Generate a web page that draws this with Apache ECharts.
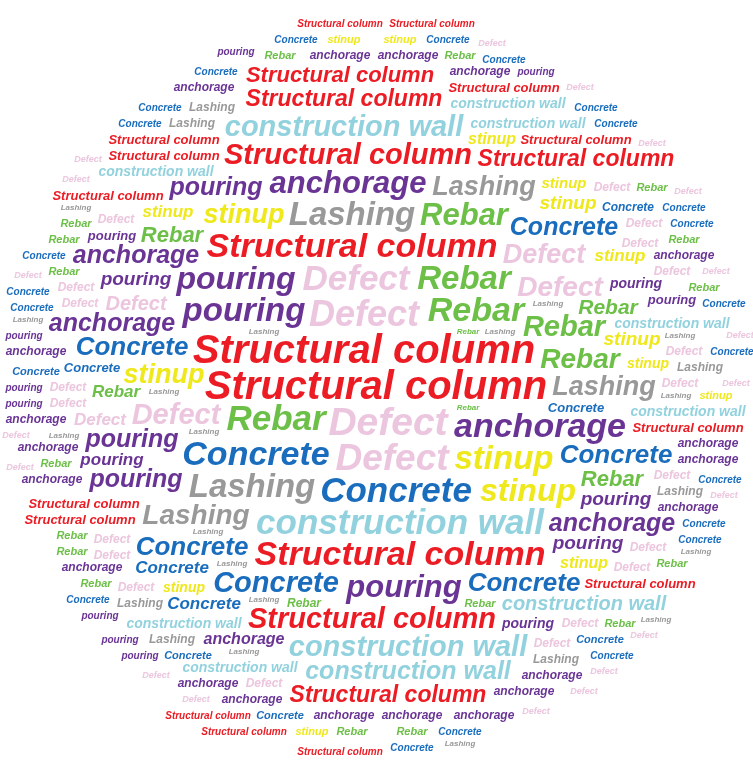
<!DOCTYPE html>
<html>
<head>
<meta charset="utf-8">
<title>Word cloud</title>
<script src="https://cdn.jsdelivr.net/npm/echarts@6/dist/echarts.min.js"></script>
<style>
  html, body { margin: 0; padding: 0; background: #fff; }
  #chart { width: 753px; height: 765px; }
</style>
</head>
<body>
<div id="chart"></div>
<script>
// words and the font size (value) of every time each one shows up
const words = ['Concrete', 'Rebar', 'Structural column', 'pouring', 'stinup', 'Defect', 'Lashing', 'construction wall', 'anchorage']

const concreteValues = [35, 34, 29, 26, 26, 26, 26, 25, 17, 17, 13, 13, 12, 11, 11, 11, 11,
  10, 10, 10, 10, 10, 10, 10, 10, 10, 10, 10, 10, 10, 10, 10, 10, 10, 10, 10, 10, 10, 10]
const rebarValues = [35, 34, 33, 31, 29, 28, 22, 22, 21, 17, 12,
  11, 11, 11, 11, 11, 11, 11, 11, 11, 11, 11, 11, 11, 11, 11, 11, 11, 8, 8]
const columnValues = [40, 40, 34, 34, 29, 29, 23, 23, 23, 22,
  13, 13, 13, 13, 13, 13, 13, 13, 13, 10, 10, 10, 10, 10]
const pouringValues = [33, 32, 31, 25, 25, 25, 19, 19, 19, 17, 14, 14, 13, 13,
  10, 10, 10, 10, 10, 10, 10, 10]
const stinupValues = [33, 32, 27, 27, 19, 19, 17, 17, 16, 16, 15, 14, 14, 11, 11, 11, 11]
const defectValues = [39, 37, 36, 35, 29, 28, 27, 20, 17,
  12, 12, 12, 12, 12, 12, 12, 12, 12, 12, 12, 12, 12, 12, 12, 12, 12, 12, 12, 12,
  9, 9, 9, 9, 9, 9, 9, 9, 9, 9, 9, 9, 9, 9, 9, 9, 9, 9, 9]
const lashingValues = [33, 33, 28, 27, 27, 12, 12, 12, 12, 12, 12, 12,
  8, 8, 8, 8, 8, 8, 8, 8, 8, 8, 8, 8, 8, 8, 8, 8, 8]
const wallValues = [35, 29, 29, 25, 20, 14, 14, 14, 14, 14, 14, 14]
const anchorageValues = [34, 31, 25, 25, 25, 16,
  12, 12, 12, 12, 12, 12, 12, 12, 12, 12, 12, 12, 12, 12, 12, 12, 12, 12, 12, 12]

const valueLists = [concreteValues, rebarValues, columnValues, pouringValues, stinupValues,
  defectValues, lashingValues, wallValues, anchorageValues]
const palette = ['#1a6dbd', '#6cbf47', '#ec1c24', '#6a3495', '#efe81b', '#ecc5de', '#999999', '#92d2de', '#6a3495']

const W = 753
const H = 765
const FONT = 'Liberation Sans'

// one entry per drawn word, biggest first
function buildItems() {
  const items = []
  words.forEach((w, i) => {
    valueLists[i].forEach(v => items.push({ name: w, size: v, color: palette[i] }))
  })
  return items.sort((a, b) => b.size - a.size)
}

// spiral placement on a pixel grid inside a circle, like wordcloud2
function layoutCloud(items) {
  const G = 4
  const PAD = 1
  const CX = 376, CY = 388, RX = 392, RY = 394
  const cols = Math.ceil(W / G)
  const rows = Math.ceil(H / G)
  const grid = new Uint8Array(cols * rows)
  for (let j = 0; j < rows; j++) {
    for (let i = 0; i < cols; i++) {
      const dx = ((i + 0.5) * G - CX) / RX
      const dy = ((j + 0.5) * G - CY) / RY
      if (dx * dx + dy * dy > 1) grid[j * cols + i] = 1
    }
  }
  const cvs = document.createElement('canvas')
  const ctx = cvs.getContext('2d', { willReadFrequently: true })
  const gx0 = Math.round(CX / G)
  const gy0 = Math.round(CY / G)
  const maxR = Math.ceil(Math.hypot(cols, rows) / 2)

  items.forEach((it, idx) => {
    const font = 'italic bold ' + it.size + 'px ' + FONT
    ctx.font = font
    const tw = ctx.measureText(it.name).width + it.size * 0.5
    const hw = Math.ceil(tw / 2 / G)
    const hh = Math.ceil(it.size * 0.75 / G)
    const cw = hw * 2 * G
    const ch = hh * 2 * G
    cvs.width = cw
    cvs.height = ch
    ctx.font = font
    ctx.textAlign = 'center'
    ctx.textBaseline = 'middle'
    ctx.fillStyle = '#000'
    ctx.fillText(it.name, cw / 2, ch / 2)
    const img = ctx.getImageData(0, 0, cw, ch).data
    // ink cells of the word
    const ink = new Uint8Array(hw * 2 * hh * 2)
    for (let b = 0; b < hh * 2; b++) {
      for (let a = 0; a < hw * 2; a++) {
        let hit = false
        for (let y = b * G; y < b * G + G && !hit; y++) {
          for (let x = a * G; x < a * G + G; x++) {
            if (img[(y * cw + x) * 4 + 3] > 0) { hit = true; break }
          }
        }
        if (hit) ink[b * hw * 2 + a] = 1
      }
    }
    // cells to check: ink grown by PAD so words keep a little gap
    const cells = []
    const own = []
    for (let b = -PAD; b < hh * 2 + PAD; b++) {
      for (let a = -PAD; a < hw * 2 + PAD; a++) {
        let near = false
        for (let q = -PAD; q <= PAD && !near; q++) {
          for (let p = -PAD; p <= PAD; p++) {
            const aa = a + p, bb = b + q
            if (aa >= 0 && bb >= 0 && aa < hw * 2 && bb < hh * 2 && ink[bb * hw * 2 + aa]) { near = true; break }
          }
        }
        if (near) cells.push([a - hw, b - hh])
        if (a >= 0 && b >= 0 && a < hw * 2 && b < hh * 2 && ink[b * hw * 2 + a]) own.push([a - hw, b - hh])
      }
    }
    const fits = (gx, gy) => {
      for (let k = 0; k < own.length; k++) {
        const x = gx + own[k][0]
        const y = gy + own[k][1]
        if (x < 0 || y < 0 || x >= cols || y >= rows) return false
        if (grid[y * cols + x]) return false
      }
      for (let k = 0; k < cells.length; k++) {
        const x = gx + cells[k][0]
        const y = gy + cells[k][1]
        if (x < 0 || y < 0 || x >= cols || y >= rows) continue
        if (grid[y * cols + x] === 2) return false
      }
      return true
    }
    const start = idx * 2.39996
    for (let r = 0; r <= maxR; r++) {
      const T = r === 0 ? 1 : Math.ceil(2 * Math.PI * r)
      for (let k = 0; k < T; k++) {
        const th = start + k * 2 * Math.PI / T
        const gx = Math.round(gx0 + r * Math.cos(th))
        const gy = Math.round(gy0 + r * Math.sin(th))
        if (fits(gx, gy)) {
          own.forEach(c => { grid[(gy + c[1]) * cols + gx + c[0]] = 2 })
          it.x = gx * G
          it.y = gy * G
          return
        }
      }
    }
  })
  return items.filter(it => it.x !== undefined)
}

const placed = layoutCloud(buildItems())

const chart = echarts.init(document.getElementById('chart'))
chart.setOption({
  animation: false,
  grid: { left: 0, right: 0, top: 0, bottom: 0 },
  xAxis: { type: 'value', min: 0, max: W, show: false },
  yAxis: { type: 'value', min: 0, max: H, inverse: true, show: false },
  series: [{
    type: 'scatter',
    symbolSize: 1,
    silent: true,
    itemStyle: { color: 'rgba(0,0,0,0)', opacity: 1 },
    label: {
      show: true,
      position: 'inside',
      formatter: '{b}',
      fontStyle: 'italic',
      fontWeight: 'bold',
      fontFamily: FONT
    },
    data: placed.map(it => ({
      name: it.name,
      value: [it.x, it.y],
      label: { fontSize: it.size, color: it.color }
    }))
  }]
})
</script>
</body>
</html>
